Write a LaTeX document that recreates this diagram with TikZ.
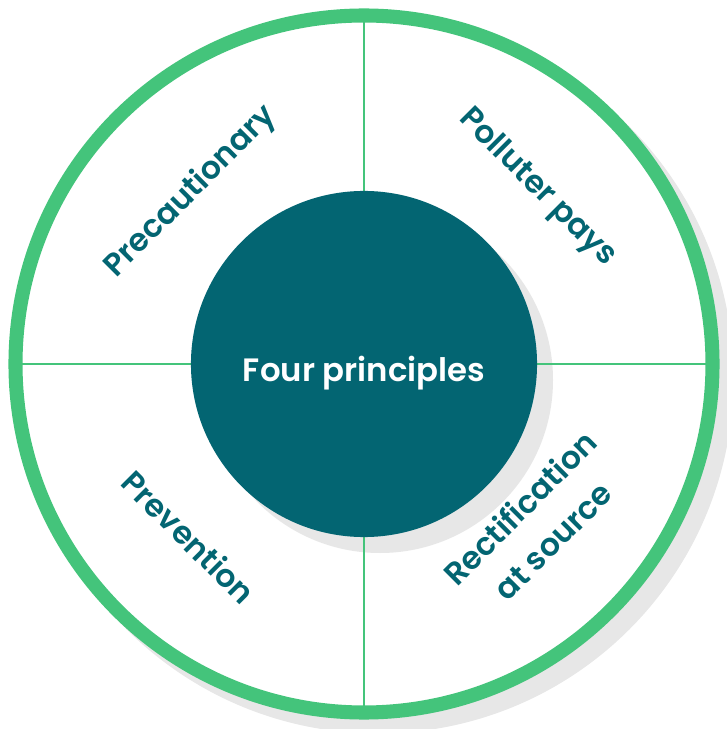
\documentclass[tikz,border=0pt]{standalone}
\usepackage{fontspec}
\setmainfont{Poppins}[BoldFont={* SemiBold}]
\definecolor{ringgreen}{HTML}{44C47B}
\definecolor{deepteal}{HTML}{036572}
\definecolor{shadowgray}{HTML}{E7E7E7}
\begin{document}
\begin{tikzpicture}[x=0.025cm,y=0.025cm]
  \tikzstyle{ring}=[draw=ringgreen,line width=10pt,fill=white]
  \tikzstyle{divider}=[draw=ringgreen,line width=1.8pt]
  \tikzstyle{shade}=[fill=shadowgray]
  \tikzstyle{core node}=[circle,fill=deepteal,inner sep=0,minimum size=8.65cm,text=white,text height=0.85cm,text depth=0pt,font=\bfseries\fontsize{23}{27}\selectfont]
  \tikzstyle{principle}=[text=deepteal,align=center,font=\bfseries\fontsize{22.4}{33}\selectfont]

  \useasboundingbox (-364,-365) rectangle (362,364);

  % outer ring with its shadow
  \fill[shade] (14,-14) circle (355.5);
  \draw[ring] (0,0) circle (348.5);
  \coordinate (N) at (90:342);
  \coordinate (S) at (270:342);
  \coordinate (W) at (180:342);
  \coordinate (E) at (0:342);

  % dividers and the centre disc
  \fill[shade] (16,-16) circle (173);
  \draw[divider] (N) -- (S);
  \draw[divider] (W) -- (E);
  \node(core)[core node] at (0,0) {Four principles};

  % the four principles
  \node(prec)[principle,rotate=45] at (-173,172) {Precautionary};
  \node(poll)[principle,rotate=-45] at (173,176) {Polluter pays};
  \node(prev)[principle,rotate=-45] at (-175,-173) {Prevention};
  \node(rect)[principle,rotate=45] at (172,-160) {Rectification\\at source};
\end{tikzpicture}
\end{document}
